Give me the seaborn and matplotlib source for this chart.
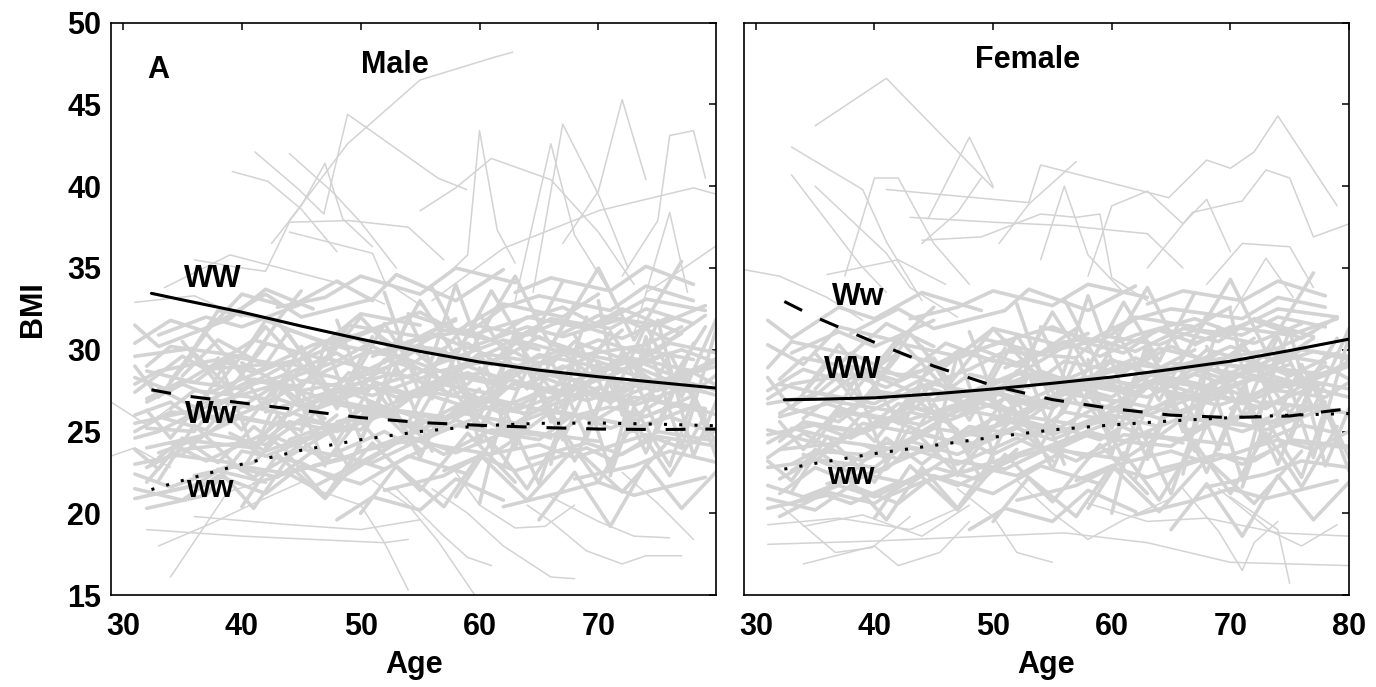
import numpy as np
import pandas as pd
import matplotlib
matplotlib.use("Agg")
import matplotlib.pyplot as plt
import seaborn as sns

# ================================
# CORES
# ================================
CINZA = "#d3d3d3"
PRETO = "#000000"

# ================================
# CURVAS MEDIAS POR GENOTIPO
# ================================
AGE_FIT = [32.4, 35, 40, 45, 50, 55, 60, 65, 70, 75, 80]
MALE_WW = [33.45, 33.05, 32.3, 31.45, 30.65, 29.9, 29.25, 28.75, 28.35, 28.0, 27.65]
MALE_Ww = [27.55, 27.2, 26.75, 26.3, 25.85, 25.55, 25.38, 25.25, 25.15, 25.12, 25.15]
MALE_ww = [21.45, 22.0, 23.0, 23.85, 24.5, 25.0, 25.35, 25.5, 25.52, 25.45, 25.35]
FEMALE_WW = [26.94, 26.97, 27.06, 27.3, 27.6, 27.95, 28.33, 28.8, 29.3, 29.95, 30.65]
FEMALE_Ww = [32.95, 32.0, 30.45, 29.0, 27.8, 26.95, 26.4, 26.0, 25.85, 25.95, 26.4]
FEMALE_ww = [22.7, 23.05, 23.65, 24.15, 24.65, 25.1, 25.4, 25.65, 25.85, 26.0, 26.1]

# ================================
# TRAJETORIAS INDIVIDUAIS  [idade, IMC, idade, IMC, ...]
# ================================
MALE_OUT = [
    [44, 37.9, 48.9, 42.6, 55, 46.5, 61.3, 47.9, 62.8, 48.2],
    [41.1, 42.1, 44.8, 39.8, 46.9, 38.3, 48.9, 44.4, 56.5, 40.5, 58.9, 39.8],
    [44, 42.0, 47.7, 39.6, 50, 37.8, 53, 35.0],
    [39.2, 40.9, 42.2, 40.3, 45, 38.6, 48, 36.0],
    [42.5, 36.5, 45, 38.8, 47, 41.4, 48.5, 38.0, 51, 36.3],
    [57, 34.4, 59, 35.8, 60, 43.4, 61.5, 37.3, 63, 35.3],
    [55, 38.5, 58, 39.9, 61, 41.7, 66, 40.4, 70, 37.2, 73, 34.0],
    [64.5, 33.5, 67, 43.8, 70, 39.5, 72.5, 35.0],
    [67, 36.5, 70, 39.7, 72, 45.3, 74, 40.4],
    [63, 33.0, 66, 42.6, 68, 37.0, 71, 33.5],
    [72, 34.5, 75, 37.9, 76, 43.1, 78, 43.4, 79, 40.5],
    [73, 31.0, 76, 38.4, 77.5, 33.5],
    [56, 33.0, 62, 36.2, 70, 38.5, 74, 39.2, 78, 39.9, 80, 39.5],
    [36, 35.5, 40, 35.0, 42, 34.8, 44, 37.8, 49, 37.9, 54, 37.5, 57, 35.5],
    [44, 37.2, 51, 35.9, 52, 34.2, 55.5, 32.5],
    [33.5, 33.8, 39, 35.8, 48, 34.1, 52, 32.8],
    [31, 32.9, 36, 33.3, 40, 32.0],
    [74, 33.5, 77, 34.9, 80, 36.4],
    [34, 16.1, 38.8, 21.3, 42, 22.0],
    [32, 19.0, 40, 18.6, 46, 18.4, 52, 18.2, 54, 18.4],
    [33, 18.0, 37.5, 19.4, 41, 20.6, 45, 21.9],
    [46, 21.5, 50, 20.5, 52, 18.2, 54, 15.3],
    [51, 22.0, 54, 20.5, 56.5, 18.3, 59.6, 15.0],
    [53, 21.5, 57, 18.6, 59, 17.3, 61, 16.8],
    [56, 21.5, 59, 20.0, 62, 18.0, 66, 16.1, 68, 16.0],
    [64, 20.5, 66, 19.5, 69, 17.7, 72, 16.9, 74, 17.4, 77, 17.4],
    [66, 21.0, 70, 19.5, 73, 18.6, 76, 18.5],
    [72, 22.5, 75, 20.6, 78, 18.4],
    [58, 22.5, 60, 20.5, 63, 19.1, 65.5, 19.2, 68, 20.5],
    [36, 19.8, 44, 19.3, 50, 19.0, 55, 19.6],
    [29, 26.8, 32, 25.4, 35, 27.0],
    [29, 23.5, 31, 24.0, 34, 22.8],
]

MALE_CORE = [
    [31, 24.6, 33, 25.0, 38, 26.9, 41, 26.4, 46, 28.3, 48, 27.1, 55, 28.6, 59, 30.4, 62, 28.9],
    [31, 27.4, 35, 29.6, 37, 28.8, 42, 29.1, 44, 31.2, 49, 30.0],
    [32, 21.9, 34, 23.6, 39, 23.1, 41, 22.2, 47, 24.8, 50, 25.6, 52, 24.0, 58, 26.2, 63, 25.5, 67, 27.3],
    [31, 29.6, 36, 30.1, 38, 32.4, 43, 31.8, 45, 33.6],
    [32, 20.3, 37, 21.1, 39, 23.0, 44, 22.4, 46, 21.6, 52, 23.9],
    [31, 26.0, 34, 26.8, 36, 25.7, 41, 27.9, 43, 28.3, 48, 29.8, 51, 28.4, 55, 30.1, 61, 29.2, 64, 31.0, 69, 29.7],
    [33, 23.7, 35, 24.2, 40, 25.9, 45, 25.1, 47, 27.0, 52, 26.3, 55, 24.8],
    [31, 31.5, 33, 30.2, 39, 31.9, 42, 33.7, 46, 32.5],
    [32, 25.2, 36, 25.0, 38, 26.8, 43, 27.9, 45, 26.4, 50, 28.0, 53, 28.6, 58, 27.2, 61, 29.3, 66, 28.7, 70, 27.5],
    [33, 21.2, 38, 22.0, 40, 23.8, 45, 23.1, 48, 22.0, 53, 24.3],
    [31, 28.3, 34, 27.5, 39, 29.7, 41, 30.6, 47, 29.4, 49, 31.5, 55, 30.8, 58, 31.9],
    [32, 26.8, 35, 27.9, 37, 27.3, 43, 29.1, 45, 28.0, 50, 29.7, 54, 30.3, 56, 29.0, 62, 30.6, 65, 30.0],
    [34, 24.3, 37, 23.2, 42, 24.9, 44, 26.2, 49, 25.0, 51, 26.5, 57, 25.7, 60, 27.6],
    [31, 30.4, 34, 31.8, 37, 31.1, 40, 33.4, 44, 32.6, 48, 34.2, 51, 33.0],
    [32, 22.8, 35, 23.9, 40, 24.3, 42, 23.5, 48, 25.2, 50, 26.4, 56, 25.0, 59, 26.7, 64, 26.1],
    [33, 27.6, 36, 26.5, 41, 28.2, 45, 27.7, 47, 29.5, 53, 28.4, 56, 30.0, 61, 29.1, 63, 30.6, 69, 29.5, 72, 31.2],
    [31, 25.5, 36, 26.3, 38, 25.6, 43, 27.9, 47, 27.0, 49, 28.6, 54, 27.3, 59, 29.0, 62, 28.2, 67, 29.8, 70, 28.1, 75, 29.6],
    [32, 29.0, 34, 30.2, 40, 29.6, 42, 31.8, 47, 30.4, 50, 32.2, 55, 31.5],
    [31, 23.0, 35, 23.6, 37, 24.9, 42, 24.2, 45, 25.7, 50, 25.1, 52, 26.4, 58, 25.8, 61, 27.0, 66, 26.2, 70, 27.7, 73, 26.6, 78, 27.9],
    [33, 25.9, 37, 25.1, 39, 26.8, 44, 26.0, 48, 27.7, 51, 27.2, 56, 28.5, 60, 27.0, 63, 28.9, 68, 28.1, 72, 29.4, 75, 27.9, 79, 29.1],
    [31, 27.9, 33, 28.7, 38, 29.4, 41, 28.6, 46, 30.3, 49, 30.9, 53, 29.5, 57, 31.2, 61, 30.6, 64, 32.0, 69, 31.3, 72, 32.5, 77, 31.0],
    [32, 24.0, 37, 24.8, 39, 25.9, 44, 25.3, 47, 26.8, 52, 26.1, 55, 27.4, 59, 26.5, 63, 27.9, 67, 27.2, 70, 28.3, 75, 27.5, 78, 28.6, 80, 27.8],
    [34, 26.4, 36, 27.5, 42, 27.0, 45, 28.8, 49, 28.1, 54, 29.4, 57, 28.6, 62, 30.2, 65, 29.1, 70, 30.6, 74, 29.7, 77, 31.0],
    [31, 22.4, 34, 21.6, 39, 22.9, 43, 22.2, 46, 23.8, 51, 23.1, 55, 24.5, 58, 23.7, 63, 25.2, 66, 24.6],
    [33, 30.9, 37, 32.0, 40, 31.4, 45, 32.8],
    [32, 27.0, 35, 28.1, 40, 27.6, 44, 29.2, 47, 28.4],
    [31, 20.9, 36, 21.7, 38, 22.6, 42, 21.9],
    [32, 28.7, 36, 28.0, 39, 29.6, 44, 29.0, 47, 30.5, 52, 29.7, 56, 31.0, 59, 30.1, 64, 31.4, 67, 30.8, 72, 31.9, 76, 30.6, 79, 32.1],
    [33, 23.4, 35, 24.5, 41, 24.0, 44, 25.6, 48, 25.0, 53, 26.3, 56, 25.5, 61, 26.9, 64, 26.0, 69, 27.5, 73, 26.8, 76, 28.0, 80, 27.2],
    [31, 25.0, 34, 26.2, 39, 25.8, 43, 27.0, 46, 26.3, 51, 27.7, 55, 27.1, 58, 28.4, 63, 27.6, 67, 29.0, 70, 28.2, 75, 29.5],
    [35, 28.4, 38, 30.6, 42, 29.0, 45, 29.4, 51, 31.2, 53, 30.1, 58, 31.8],
    [36, 22.3, 41, 23.1, 43, 24.6, 47, 23.4, 52, 25.0, 54, 24.2, 60, 25.9, 63, 24.7],
    [37, 26.6, 40, 28.3, 45, 27.5, 48, 27.9, 53, 29.6, 57, 28.0, 60, 29.8, 66, 29.1, 68, 30.5, 73, 29.2],
    [38, 31.7, 42, 33.4, 45, 32.0, 51, 33.1, 53, 34.6, 58, 33.0, 62, 34.9],
    [39, 24.9, 42, 23.8, 47, 25.0, 50, 26.3, 55, 25.4, 59, 26.9, 62, 26.1, 67, 28.0, 71, 26.9, 74, 28.2, 79, 27.4],
    [40, 29.2, 43, 28.0, 48, 29.3, 51, 30.5, 57, 30.0, 59, 31.6, 64, 30.9, 67, 31.8, 72, 30.7, 76, 32.0],
    [41, 21.8, 44, 22.5, 49, 23.4, 52, 22.7, 56, 24.2, 61, 23.6, 64, 25.0, 70, 24.4],
    [42, 26.2, 45, 26.9, 50, 28.0, 53, 27.1, 59, 28.6, 61, 28.0, 65, 29.7, 71, 28.8, 73, 30.1, 78, 29.4],
    [43, 32.6, 47, 33.2, 50, 34.5, 55, 33.4, 58, 35.0, 63, 34.1],
    [44, 24.5, 47, 25.3, 52, 26.2, 55, 25.1, 61, 26.9, 63, 26.3, 68, 27.6, 71, 26.8, 76, 28.3, 80, 27.5],
    [45, 28.1, 50, 27.6, 52, 29.4, 56, 28.6, 62, 29.5, 65, 30.8, 68, 29.6, 74, 30.3, 77, 31.4],
    [46, 22.9, 49, 23.5, 54, 24.8, 57, 23.6, 61, 25.1, 66, 24.7, 69, 26.0, 73, 25.2, 78, 26.5],
    [47, 30.3, 50, 31.0, 55, 32.3, 58, 31.1, 62, 32.8, 67, 32.0, 70, 33.4],
    [48, 25.6, 53, 26.4, 55, 27.5, 61, 26.8, 63, 28.1, 68, 27.2, 71, 28.9, 75, 28.0, 80, 29.0],
    [49, 27.4, 52, 26.5, 57, 28.0, 60, 28.6, 64, 27.9, 69, 29.5, 72, 28.8, 77, 30.0, 80, 29.2],
    [50, 23.8, 55, 24.6, 58, 25.7, 61, 24.9, 66, 26.3, 70, 25.8, 73, 27.1, 79, 26.4],
    [51, 29.6, 54, 30.5, 59, 31.2, 62, 30.3, 66, 31.9, 71, 31.3, 74, 32.5, 78, 31.6],
    [52, 21.4, 57, 22.3, 60, 23.5, 63, 22.6, 69, 24.0, 71, 23.3, 75, 24.7, 80, 24.1],
    [53, 26.9, 56, 28.0, 61, 27.3, 64, 29.0, 68, 28.1, 73, 29.4, 76, 28.5],
    [54, 32.2, 59, 31.0, 62, 32.6, 65, 33.3, 71, 32.4, 74, 33.9, 78, 33.0],
    [55, 24.4, 58, 25.4, 63, 24.6, 66, 26.2, 72, 25.5, 75, 26.8, 79, 26.2],
    [56, 28.8, 61, 28.1, 64, 29.3, 67, 30.0, 73, 29.1, 76, 30.4, 80, 29.8],
    [57, 22.6, 60, 23.5, 65, 24.2, 68, 23.4, 74, 24.8, 77, 24.0, 80, 25.1],
    [58, 26.0, 63, 26.8, 66, 27.7, 69, 26.9, 75, 28.2, 78, 27.6],
    [59, 30.8, 62, 31.5, 67, 32.6, 70, 31.5, 74, 33.1, 79, 32.4],
    [60, 25.1, 65, 24.5, 68, 26.1, 71, 25.2, 77, 26.7, 80, 26.0],
    [61, 27.7, 64, 28.8, 69, 28.0, 72, 29.6, 78, 28.7, 80, 29.5],
    [62, 20.4, 67, 21.3, 70, 21.9, 73, 21.1, 79, 22.2],
    [63, 33.5, 66, 34.4, 71, 33.6, 74, 35.1, 78, 34.0],
    [64, 23.3, 69, 24.3, 72, 23.6, 75, 25.0, 80, 24.4],
    [65, 28.4, 68, 27.6, 73, 29.0, 76, 28.1, 80, 29.3],
    [66, 25.6, 71, 26.5, 74, 25.9, 78, 27.2],
    [67, 31.0, 70, 32.1, 75, 31.5, 79, 32.7],
    [68, 22.1, 73, 22.9, 76, 23.8, 80, 23.1],
    [70, 27.0, 73, 28.1, 78, 27.4, 80, 28.5],
    [72, 24.8, 76, 25.9, 79, 25.1],
    [45, 25.0, 47, 30.5, 50, 24.5, 53, 29.0, 56, 23.8],
    [58, 30.0, 60, 24.2, 63, 31.2, 66, 25.6, 69, 32.0],
    [66, 23.0, 68, 29.5, 71, 22.6, 74, 30.8, 77, 24.0, 80, 31.5],
    [38, 29.5, 41, 23.8, 44, 28.6, 47, 22.9],
    [52, 33.5, 55, 27.2, 58, 34.0, 61, 28.0],
    [70, 33.0, 72, 26.0, 75, 31.8, 78, 23.5, 80, 27.0],
    [60, 20.6, 62, 26.5, 65, 21.8, 68, 27.9],
    [48, 31.8, 51, 26.0, 54, 32.0, 57, 27.5],
    [31, 21.5, 35, 20.8, 38, 22.3, 42, 21.2, 45, 22.9, 50, 21.8, 54, 23.5, 59, 22.4],
    [32, 26.3, 34, 24.6, 37, 27.2, 40, 25.1, 43, 27.9, 47, 25.8],
    [31, 29.0, 33, 27.1, 36, 29.8, 39, 27.6, 42, 30.3],
    [33, 22.0, 36, 25.4, 40, 22.6, 43, 26.0, 47, 23.1, 51, 26.8, 55, 23.9],
    [35, 30.5, 38, 27.9, 42, 31.4, 46, 28.3, 50, 32.0, 54, 28.9],
    [40, 20.4, 43, 23.6, 47, 20.9, 51, 24.3, 55, 21.4, 59, 24.9, 63, 21.9],
    [44, 30.9, 48, 26.4, 52, 31.6, 56, 27.0, 60, 32.2, 64, 27.6, 68, 32.8],
    [50, 20.0, 53, 22.9, 57, 20.4, 60, 23.6, 64, 20.8, 68, 24.0, 72, 21.3, 76, 24.5],
    [54, 25.5, 57, 30.1, 60, 25.9, 63, 30.7, 67, 26.5, 71, 31.1, 75, 26.8, 79, 31.4],
    [62, 22.8, 65, 27.9, 68, 23.2, 71, 28.4, 74, 23.7, 77, 28.9, 80, 24.1],
    [56, 33.8, 59, 29.6, 63, 34.5, 66, 30.2, 70, 35.0, 73, 30.6, 77, 35.4],
    [65, 19.6, 68, 22.5, 71, 19.2, 74, 23.0, 77, 20.3, 80, 22.6],
    [46, 26.7, 49, 22.8, 52, 27.6, 55, 23.4, 58, 28.2, 61, 24.0, 64, 28.8, 67, 24.5, 70, 29.3, 73, 25.0, 76, 29.8, 79, 25.5],
    [34, 28.1, 37, 31.0, 40, 28.5, 43, 31.7, 46, 29.0],
    [31, 23.9, 33, 22.7, 35, 24.6, 38, 23.1, 41, 25.3, 44, 23.7, 48, 26.0],
    [42, 24.0, 45, 27.4, 48, 24.4, 51, 27.9, 54, 24.8, 57, 28.5, 60, 25.2, 63, 29.0],
    [58, 21.0, 61, 24.4, 64, 21.5, 67, 25.0, 70, 21.9, 73, 25.6, 76, 22.3, 79, 26.0],
    [68, 30.9, 71, 26.7, 74, 31.5, 77, 27.1, 80, 32.0],
    [48, 19.6, 51, 21.0, 55, 20.2, 58, 22.1, 62, 20.8],
    [52, 29.2, 55, 33.0, 58, 29.6, 61, 33.6, 64, 30.0, 67, 34.2],
    [36, 25.9, 39, 29.7, 42, 26.3, 45, 30.2, 48, 26.8, 51, 30.8],
    [71, 22.3, 73, 26.5, 76, 22.9, 78, 27.1, 80, 23.3],
    [60, 28.9, 63, 24.0, 66, 29.4, 69, 24.6, 72, 29.9, 75, 25.1, 78, 30.4],
    [38, 22.7, 41, 20.3, 44, 23.5, 47, 21.0, 50, 24.1],
]

FEMALE_OUT = [
    [35, 43.7, 41, 46.6, 50, 39.9],
    [33, 42.4, 39, 39.8, 41, 36.6, 44, 33.0],
    [33, 40.7, 38.8, 35.2, 41, 33.5],
    [35, 40.0, 41, 35.9, 43, 33.8, 47, 32.0],
    [37.5, 34.5, 40, 40.5, 42, 40.5, 45, 36.5, 48, 34.0],
    [44.5, 38.0, 48, 43.0, 50, 40.0],
    [44, 36.5, 47, 38.4, 49, 40.5],
    [41, 39.8, 53, 39.0, 54, 41.3, 64.8, 39.3, 68, 41.6, 70, 41.1, 72, 42.1, 74, 44.3, 79, 38.8],
    [50.5, 36.5, 53, 38.9, 57, 41.5],
    [54, 35.5, 56, 40.0, 58, 35.8, 61, 33.5],
    [58, 34.5, 60, 38.8, 63, 39.7, 66, 37.7, 68, 39.2, 70, 36.0],
    [63, 35.0, 66.8, 38.4, 71, 39.1, 73, 41.0, 75, 40.5, 77, 36.9, 80, 37.7],
    [68, 34.0, 71, 36.5, 75, 36.3, 77, 33.8],
    [70, 32.0, 73, 35.6, 75.3, 33.2],
    [29, 34.9, 32, 34.5, 36, 33.2, 39, 31.8],
    [36, 34.6, 42, 35.5, 46, 34.0],
    [43, 38.1, 50, 37.8, 56, 37.6, 63, 37.1, 66, 35.0],
    [44, 36.7, 49, 36.9, 54, 38.3, 57, 38.1, 59, 38.3, 60, 34.4, 63, 33.0],
    [34, 16.9, 40, 18.0, 42, 16.8, 45.5, 17.6, 48, 19.5],
    [31, 18.1, 40, 18.3, 49.5, 18.6, 56, 18.8, 63, 18.2, 70, 17.0, 75, 16.9, 80, 16.8],
    [31, 19.3, 37, 19.7, 43, 19.0, 47, 20.3],
    [34, 19.2, 39, 19.9, 44, 18.6, 48, 20.5],
    [32, 20.5, 36.7, 17.6, 39.8, 17.9, 43, 19.8],
    [66, 21.5, 69, 18.9, 71, 16.5, 72, 18.2, 74, 19.5],
    [70, 21.0, 74, 19.0, 75, 15.7],
    [69, 21.5, 73.4, 18.9, 76, 18.0, 79, 19.3],
    [47, 21.5, 50, 19.8, 52, 17.6, 55, 17.0],
    [58, 20.6, 63, 19.5, 68, 19.7, 74, 18.8, 80, 18.6],
    [52, 22.0, 55, 20.0, 58, 18.4, 61, 19.6, 65, 20.9],
]

FEMALE_CORE = [
    [31, 23.4, 34, 24.9, 36, 24.1, 41, 25.8, 44, 25.0, 49, 27.2, 52, 26.1, 57, 27.9, 60, 26.8],
    [31, 26.7, 35, 27.2, 38, 29.0, 42, 28.1, 46, 30.4, 50, 29.3],
    [32, 21.2, 35, 22.8, 38, 21.9, 43, 23.5, 47, 24.7, 50, 23.6, 55, 25.4, 59, 24.5, 63, 26.2],
    [31, 28.9, 33, 30.5, 38, 29.7, 41, 31.6, 45, 30.2],
    [32, 19.8, 36, 21.3, 40, 20.6, 44, 22.5, 47, 21.7, 52, 23.4],
    [31, 25.1, 35, 24.3, 37, 26.2, 42, 25.6, 45, 27.4, 48, 26.5, 53, 28.3, 57, 27.6, 61, 29.1, 65, 28.0, 69, 29.8],
    [33, 22.6, 36, 24.0, 39, 23.2, 44, 24.9, 48, 24.1, 51, 25.8, 56, 25.0],
    [31, 30.3, 34, 29.1, 37, 31.4, 42, 30.5, 45, 32.6],
    [32, 24.4, 34, 25.6, 39, 25.0, 42, 26.7, 47, 25.9, 50, 27.5, 54, 26.6, 58, 28.3, 62, 27.4, 66, 29.0, 70, 28.1],
    [33, 20.6, 37, 21.7, 40, 21.0, 45, 22.8, 49, 22.0, 52, 23.9],
    [31, 27.5, 34, 28.8, 38, 27.9, 42, 29.8, 46, 29.0, 49, 30.7, 54, 29.8, 57, 31.3],
    [32, 25.9, 36, 26.7, 39, 26.0, 44, 27.8, 47, 27.1, 52, 28.6, 55, 27.8, 60, 29.4, 63, 28.5, 67, 30.0],
    [34, 23.6, 37, 22.7, 41, 24.3, 45, 23.8, 48, 25.3, 53, 24.7, 56, 26.2, 61, 25.5],
    [31, 31.8, 33, 30.7, 37, 32.6, 40, 31.9, 44, 33.5, 49, 32.4],
    [32, 22.1, 35, 23.3, 40, 22.8, 43, 24.4, 47, 23.6, 52, 25.2, 55, 24.5, 60, 26.0, 64, 25.3],
    [33, 26.4, 37, 25.6, 40, 27.3, 45, 26.9, 48, 28.5, 53, 27.7, 56, 29.3, 61, 28.6, 64, 30.1, 69, 29.2, 72, 30.7],
    [31, 24.8, 35, 25.4, 38, 24.6, 43, 26.5, 46, 25.9, 51, 27.6, 54, 26.8, 59, 28.4, 62, 27.7, 67, 29.2, 70, 28.3, 75, 29.9],
    [32, 28.2, 34, 29.5, 40, 28.6, 42, 30.4, 47, 29.6, 50, 31.3, 55, 30.4],
    [31, 22.8, 35, 23.2, 37, 24.4, 42, 23.9, 45, 25.2, 50, 24.6, 52, 26.0, 58, 25.3, 61, 26.8, 66, 26.1, 70, 27.5, 73, 26.6, 78, 28.0],
    [33, 25.2, 37, 24.5, 39, 26.1, 44, 25.4, 48, 27.0, 51, 26.3, 56, 27.9, 60, 27.1, 63, 28.6, 68, 27.8, 72, 29.3, 75, 28.4, 79, 29.8],
    [31, 27.0, 33, 27.9, 38, 28.5, 41, 27.7, 46, 29.4, 49, 30.0, 53, 28.9, 57, 30.6, 61, 29.8, 64, 31.3, 69, 30.5, 72, 31.9, 77, 30.8],
    [32, 23.9, 37, 24.3, 39, 25.5, 44, 24.8, 47, 26.4, 52, 25.7, 55, 27.1, 59, 26.3, 63, 27.8, 67, 27.0, 70, 28.5, 75, 27.7, 78, 29.0, 80, 28.2],
    [34, 25.8, 36, 26.9, 42, 26.2, 45, 27.9, 49, 27.3, 54, 28.7, 57, 27.9, 62, 29.5, 65, 28.6, 70, 30.2, 74, 29.3, 77, 30.7],
    [31, 21.7, 34, 21.0, 39, 22.4, 43, 21.8, 46, 23.3, 51, 22.7, 55, 24.1, 58, 23.4, 63, 24.9, 66, 24.3],
    [33, 29.8, 37, 31.1, 40, 30.2, 45, 31.8],
    [32, 26.1, 35, 27.4, 40, 26.7, 44, 28.2, 47, 27.5],
    [31, 20.3, 36, 21.1, 38, 20.6, 42, 21.9],
    [32, 27.9, 36, 27.2, 39, 28.8, 44, 28.3, 47, 29.9, 52, 29.0, 56, 30.5, 59, 29.6, 64, 31.2, 67, 30.4, 72, 31.8, 76, 30.7, 79, 32.0],
    [33, 23.0, 35, 23.8, 41, 23.5, 44, 24.8, 48, 24.2, 53, 25.6, 56, 25.0, 61, 26.5, 64, 25.8, 69, 27.1, 73, 26.4, 76, 27.8, 80, 27.1],
    [31, 24.3, 34, 25.5, 39, 24.9, 43, 26.2, 46, 25.6, 51, 27.0, 55, 26.4, 58, 27.8, 63, 27.1, 67, 28.5, 70, 27.8, 75, 29.1],
    [35, 27.6, 38, 29.8, 42, 28.4, 45, 28.9, 51, 30.6, 53, 29.5, 58, 31.0],
    [36, 21.8, 41, 22.7, 43, 24.0, 47, 23.0, 52, 24.6, 54, 23.9, 60, 25.6, 63, 24.6],
    [37, 25.9, 40, 27.5, 45, 26.9, 48, 27.2, 53, 28.8, 57, 27.6, 60, 29.3, 66, 28.7, 68, 30.0, 73, 29.0],
    [38, 31.0, 42, 32.5, 45, 31.3, 51, 32.4, 53, 33.7, 58, 32.4, 62, 33.9],
    [39, 24.2, 42, 23.3, 47, 24.6, 50, 25.8, 55, 25.0, 59, 26.6, 62, 25.9, 67, 27.7, 71, 26.8, 74, 28.1, 79, 27.3],
    [40, 28.4, 43, 27.5, 48, 28.8, 51, 29.9, 57, 29.5, 59, 30.9, 64, 30.3, 67, 31.2, 72, 30.4, 76, 31.6],
    [41, 21.0, 44, 21.9, 49, 22.8, 52, 22.3, 56, 23.8, 61, 23.3, 64, 24.7, 70, 24.2],
    [42, 25.5, 45, 26.2, 50, 27.4, 53, 26.6, 59, 28.1, 61, 27.6, 65, 29.2, 71, 28.5, 73, 29.8, 78, 29.2],
    [43, 31.9, 47, 32.6, 50, 33.6, 55, 32.7, 58, 34.0, 63, 33.2],
    [44, 23.9, 47, 24.6, 52, 25.7, 55, 24.8, 61, 26.5, 63, 26.0, 68, 27.4, 71, 26.7, 76, 28.2, 80, 27.6],
    [45, 27.4, 50, 27.0, 52, 28.7, 56, 28.0, 62, 29.0, 65, 30.2, 68, 29.3, 74, 30.1, 77, 31.1],
    [46, 22.2, 49, 22.9, 54, 24.1, 57, 23.2, 61, 24.8, 66, 24.5, 69, 25.8, 73, 25.1, 78, 26.4],
    [47, 29.6, 50, 30.3, 55, 31.4, 58, 30.5, 62, 32.0, 67, 31.4, 70, 32.6],
    [48, 25.0, 53, 25.8, 55, 26.9, 61, 26.4, 63, 27.7, 68, 27.0, 71, 28.6, 75, 27.9, 80, 29.1],
    [49, 26.7, 52, 26.0, 57, 27.6, 60, 28.1, 64, 27.6, 69, 29.2, 72, 28.7, 77, 29.9, 80, 29.4],
    [50, 23.1, 55, 24.0, 58, 25.0, 61, 24.4, 66, 25.9, 70, 25.5, 73, 26.8, 79, 26.3],
    [51, 28.9, 54, 29.8, 59, 30.6, 62, 29.9, 66, 31.3, 71, 30.9, 74, 32.0, 78, 31.4],
    [52, 20.8, 57, 21.7, 60, 22.8, 63, 22.2, 69, 23.6, 71, 23.0, 75, 24.4, 80, 24.0],
    [53, 26.2, 56, 27.3, 61, 26.8, 64, 28.4, 68, 27.8, 73, 29.0, 76, 28.4],
    [54, 31.4, 59, 30.5, 62, 31.9, 65, 32.5, 71, 31.9, 74, 33.2, 78, 32.6],
    [55, 23.8, 58, 24.8, 63, 24.2, 66, 25.8, 72, 25.3, 75, 26.6, 79, 26.2],
    [56, 28.1, 61, 27.6, 64, 28.7, 67, 29.3, 73, 28.8, 76, 30.0, 80, 29.6],
    [57, 22.0, 60, 22.9, 65, 23.8, 68, 23.1, 74, 24.5, 77, 23.9, 80, 25.0],
    [58, 25.4, 63, 26.3, 66, 27.1, 69, 26.6, 75, 28.0, 78, 27.5],
    [59, 30.1, 62, 30.9, 67, 31.9, 70, 31.1, 74, 32.5, 79, 32.0],
    [60, 24.5, 65, 24.1, 68, 25.6, 71, 25.0, 77, 26.5, 80, 26.1],
    [61, 27.0, 64, 28.1, 69, 27.6, 72, 29.0, 78, 28.5, 80, 29.3],
    [62, 19.9, 67, 20.8, 70, 21.5, 73, 20.9, 79, 22.0],
    [63, 32.8, 66, 33.6, 71, 33.0, 74, 34.2, 78, 33.3],
    [64, 22.7, 69, 23.6, 72, 23.2, 75, 24.5, 80, 24.1],
    [65, 27.8, 68, 27.1, 73, 28.5, 76, 27.9, 80, 29.0],
    [66, 25.0, 71, 26.0, 74, 25.5, 78, 26.8],
    [67, 30.3, 70, 31.4, 75, 30.9, 79, 31.9],
    [68, 21.6, 73, 22.4, 76, 23.2, 80, 22.8],
    [70, 26.4, 73, 27.6, 78, 27.1, 80, 28.0],
    [72, 24.2, 76, 25.4, 79, 24.9],
    [45, 24.0, 47, 29.8, 50, 23.7, 53, 28.5, 56, 23.0],
    [58, 29.4, 60, 23.6, 63, 30.5, 66, 25.0, 69, 31.4],
    [66, 22.4, 68, 28.9, 71, 22.0, 74, 30.1, 77, 23.4, 80, 30.8],
    [38, 28.8, 41, 23.0, 44, 27.9, 47, 22.3],
    [52, 32.8, 55, 26.5, 58, 33.3, 61, 27.3],
    [70, 32.4, 72, 25.4, 75, 31.2, 78, 22.9, 80, 26.4],
    [60, 20.0, 62, 25.8, 65, 21.2, 68, 27.2],
    [48, 31.1, 51, 25.3, 54, 31.3, 57, 26.8],
    [31, 20.9, 35, 20.2, 38, 21.7, 42, 20.6, 45, 22.3, 50, 21.2, 54, 22.9, 59, 21.8],
    [32, 25.6, 34, 23.9, 37, 26.5, 40, 24.4, 43, 27.2, 47, 25.1],
    [31, 28.3, 33, 26.4, 36, 29.1, 39, 26.9, 42, 29.6],
    [33, 21.3, 36, 24.7, 40, 21.9, 43, 25.3, 47, 22.4, 51, 26.1, 55, 23.2],
    [35, 29.8, 38, 27.2, 42, 30.7, 46, 27.6, 50, 31.3, 54, 28.2],
    [40, 19.7, 43, 22.9, 47, 20.2, 51, 23.6, 55, 20.7, 59, 24.2, 63, 21.2],
    [44, 30.2, 48, 25.7, 52, 30.9, 56, 26.3, 60, 31.5, 64, 26.9, 68, 32.1],
    [50, 19.5, 53, 22.2, 57, 19.8, 60, 22.9, 64, 20.1, 68, 23.3, 72, 20.6, 76, 23.8],
    [54, 24.8, 57, 29.4, 60, 25.2, 63, 30.0, 67, 25.8, 71, 30.4, 75, 26.1, 79, 30.7],
    [62, 22.1, 65, 27.2, 68, 22.5, 71, 27.7, 74, 23.0, 77, 28.2, 80, 23.4],
    [56, 33.1, 59, 28.9, 63, 33.8, 66, 29.5, 70, 34.3, 73, 29.9, 77, 34.7],
    [65, 19.0, 68, 21.8, 71, 18.6, 74, 22.3, 77, 19.6, 80, 21.9],
    [46, 26.0, 49, 22.1, 52, 26.9, 55, 22.7, 58, 27.5, 61, 23.3, 64, 28.1, 67, 23.8, 70, 28.6, 73, 24.3, 76, 29.1, 79, 24.8],
    [34, 27.4, 37, 30.3, 40, 27.8, 43, 31.0, 46, 28.3],
    [31, 23.2, 33, 22.0, 35, 23.9, 38, 22.4, 41, 24.6, 44, 23.0, 48, 25.3],
    [42, 23.3, 45, 26.7, 48, 23.7, 51, 27.2, 54, 24.1, 57, 27.8, 60, 24.5, 63, 28.3],
    [58, 20.3, 61, 23.7, 64, 20.8, 67, 24.3, 70, 21.2, 73, 24.9, 76, 21.6, 79, 25.3],
    [68, 30.2, 71, 26.0, 74, 30.8, 77, 26.4, 80, 31.3],
    [48, 19.0, 51, 20.3, 55, 19.5, 58, 21.4, 62, 20.1],
    [52, 28.5, 55, 32.3, 58, 28.9, 61, 32.9, 64, 29.3, 67, 33.5],
    [36, 25.2, 39, 29.0, 42, 25.6, 45, 29.5, 48, 26.1, 51, 30.1],
    [71, 21.6, 73, 25.8, 76, 22.2, 78, 26.4, 80, 22.6],
    [60, 28.2, 63, 23.3, 66, 28.7, 69, 23.9, 72, 29.2, 75, 24.4, 78, 29.7],
    [38, 22.0, 41, 19.6, 44, 22.8, 47, 20.3, 50, 23.4],
]


def to_frame(trajs):
    rows = []
    for i, t in enumerate(trajs):
        for a, b in zip(t[0::2], t[1::2]):
            rows.append((i, a, b))
    return pd.DataFrame(rows, columns=["id", "age", "bmi"])


# ================================
# ESTILO
# ================================
sns.set_style("white")
plt.rcParams["font.family"] = ["Liberation Sans", "DejaVu Sans"]
plt.rcParams["font.weight"] = "bold"
plt.rcParams["axes.labelweight"] = "bold"
plt.rcParams["text.color"] = "black"
plt.rcParams["axes.labelcolor"] = "black"
plt.rcParams["xtick.color"] = "black"
plt.rcParams["ytick.color"] = "black"

fig = plt.figure(figsize=(13.76, 6.87), dpi=100)
ax1 = fig.add_axes([0.0807, 0.1339, 0.4397, 0.833])
ax2 = fig.add_axes([0.5407, 0.1339, 0.4397, 0.833])

FS = 22
DASH = (0, (6.5, 6.5))
DOT = (0, (1, 4))

panels = [
    (ax1, MALE_CORE, MALE_OUT, MALE_WW, MALE_Ww, MALE_ww, 79.9, range(30, 71, 10)),
    (ax2, FEMALE_CORE, FEMALE_OUT, FEMALE_WW, FEMALE_Ww, FEMALE_ww, 80.0, range(30, 81, 10)),
]

for ax, core, out, ww_big, ww_mid, ww_small, xmax, xt in panels:
    sns.lineplot(data=to_frame(core), x="age", y="bmi", units="id", estimator=None,
                 color=CINZA, lw=2.6, ax=ax, legend=False)
    sns.lineplot(data=to_frame(out), x="age", y="bmi", units="id", estimator=None,
                 color=CINZA, lw=1.1, ax=ax, legend=False)
    ax.plot(AGE_FIT, ww_big, color=PRETO, lw=2.2)
    ax.plot(AGE_FIT, ww_mid, color=PRETO, lw=2.2, linestyle=DASH)
    ax.plot(AGE_FIT, ww_small, color=PRETO, lw=2.2, linestyle=DOT)

    ax.set_xlim(29, xmax)
    ax.set_ylim(15, 50)
    ax.set_xticks(list(xt))
    ax.set_yticks(range(15, 51, 5))
    ax.tick_params(direction="in", top=True, right=True, length=5, width=1.1,
                   labelsize=FS, colors=PRETO)
    ax.tick_params(axis="x", pad=12)
    ax.tick_params(axis="y", pad=7)
    for s in ax.spines.values():
        s.set_color(PRETO)
        s.set_linewidth(1.2)
    ax.set_xlabel("Age", fontsize=FS, labelpad=6)
    ax.set_ylabel("")

ax1.set_ylabel("BMI", fontsize=FS, labelpad=14)
ax2.tick_params(labelleft=False)

# textos
ax1.text(33.0, 47.1, "A", fontsize=FS, ha="center", va="center")
ax1.text(52.9, 47.4, "Male", fontsize=FS, ha="center", va="center")
ax1.text(37.55, 34.3, "WW", fontsize=FS, ha="center", va="center")
ax1.text(37.4, 26.0, "Ww", fontsize=FS, ha="center", va="center")
ax1.text(37.3, 21.5, "ww", fontsize=FS, ha="center", va="center")

ax2.text(52.9, 47.7, "Female", fontsize=FS, ha="center", va="center")
ax2.text(38.65, 33.2, "Ww", fontsize=FS, ha="center", va="center")
ax2.text(38.2, 28.75, "WW", fontsize=FS, ha="center", va="center")
ax2.text(38.0, 22.3, "ww", fontsize=FS, ha="center", va="center")

fig.savefig("out.png", dpi=100)
